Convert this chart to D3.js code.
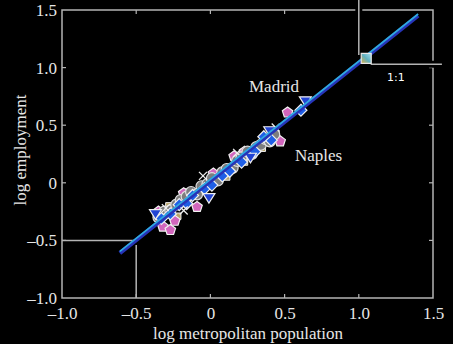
<!DOCTYPE html>
<html>
<head>
<meta charset="utf-8">
<script src="https://cdn.jsdelivr.net/npm/d3@7"></script>
<style>
  body { margin: 0; background: #000; }
  svg { display: block; }
</style>
</head>
<body>
<div id="chart"></div>
<script>
// axis ticks
var xTicks = [-1.0, -0.5, 0, 0.5, 1.0, 1.5];
var yTicks = [-1.0, -0.5, 0, 0.5, 1.0, 1.5];

// cities, one array per marker type: [log population, log employment]
var circles = [[-0.35, -0.30], [-0.31, -0.25], [-0.27, -0.24], [-0.23, -0.19], [-0.20, -0.15],
  [-0.16, -0.12], [-0.13, -0.08], [-0.09, -0.10], [-0.06, -0.03], [-0.02, -0.01], [0.01, 0.04],
  [0.05, 0.02], [0.08, 0.09], [0.11, 0.12], [0.15, 0.13], [0.18, 0.19], [0.21, 0.22],
  [0.25, 0.27], [0.28, 0.25], [0.31, 0.31], [0.34, 0.33], [0.37, 0.38], [0.40, 0.36], [0.43, 0.42]];
var pentagons = [[-0.32, -0.38], [-0.27, -0.41], [-0.35, -0.25], [-0.24, -0.33], [-0.09, -0.21],
  [0.16, 0.23], [0.23, 0.27], [0.47, 0.36], [0.52, 0.61], [-0.18, -0.09], [0.02, 0.08]];
var diamonds = [[-0.33, -0.31], [-0.27, -0.27], [-0.21, -0.19], [-0.12, -0.11], [-0.04, -0.05],
  [0.01, -0.02], [0.08, 0.06], [0.13, 0.10], [0.21, 0.18], [0.30, 0.27], [0.41, 0.37], [0.61, 0.63],
  [-0.16, -0.18], [0.36, 0.40]];
var triangles = [[0.64, 0.71], [-0.37, -0.27], [0.40, 0.45], [-0.01, -0.13], [0.27, 0.22]];
var squares = [[-0.15, -0.08], [-0.22, -0.29], [0.11, 0.05], [0.23, 0.18], [-0.28, -0.20], [0.35, 0.30]];
var crosses = [[-0.30, -0.22], [-0.05, 0.06], [0.44, 0.48], [0.18, 0.26], [-0.18, -0.24]];

// fitted lines
var fitX = [-0.61, 1.40];
var fitY = [-0.61, 1.45];
var fit2Y = [-0.595, 1.465];

// 1:1 inset guide
var insetPoint = [1.05, 1.08];

var width = 453, height = 344;
var svg = d3.select("#chart").append("svg")
    .attr("width", width)
    .attr("height", height)
    .style("background", "#000");

var x = d3.scaleLinear().domain([-1, 1.5]).range([62, 433]);
var y = d3.scaleLinear().domain([-1, 1.5]).range([298, 10]);

var frameColor = "#b4b4b4";
var fmt = function(d) {
    if (d === 0) return "0";
    return (d < 0 ? "\u2013" : "") + Math.abs(d).toFixed(1);
};

// frame
svg.append("rect")
    .attr("x", x(-1)).attr("y", y(1.5))
    .attr("width", x(1.5) - x(-1)).attr("height", y(-1) - y(1.5))
    .attr("fill", "none").attr("stroke", frameColor).attr("stroke-width", 1.5);

// inward ticks on all sides
var tickG = svg.append("g").attr("stroke", frameColor).attr("stroke-width", 1.2);
xTicks.slice(1, -1).forEach(function(t) {
    tickG.append("line").attr("x1", x(t)).attr("x2", x(t)).attr("y1", y(-1)).attr("y2", y(-1) - 4);
    tickG.append("line").attr("x1", x(t)).attr("x2", x(t)).attr("y1", y(1.5)).attr("y2", y(1.5) + 4);
});
yTicks.slice(1, -1).forEach(function(t) {
    tickG.append("line").attr("y1", y(t)).attr("y2", y(t)).attr("x1", x(-1)).attr("x2", x(-1) + 4);
    tickG.append("line").attr("y1", y(t)).attr("y2", y(t)).attr("x1", x(1.5)).attr("x2", x(1.5) - 4);
});

// tick labels
svg.append("g")
    .attr("transform", "translate(0," + (y(-1) + 9) + ")")
    .call(d3.axisBottom(x).tickValues(xTicks).tickFormat(fmt).tickSize(0).tickPadding(0))
    .call(function(g) { g.select(".domain").remove(); })
    .selectAll("text")
    .attr("fill", "#e6e6e6")
    .style("font-family", "'Liberation Serif', serif")
    .style("font-size", "17px");

svg.append("g")
    .attr("transform", "translate(" + (x(-1) - 5) + ",0)")
    .call(d3.axisLeft(y).tickValues(yTicks).tickFormat(fmt).tickSize(0).tickPadding(0))
    .call(function(g) { g.select(".domain").remove(); })
    .selectAll("text")
    .attr("fill", "#e6e6e6")
    .style("font-family", "'Liberation Serif', serif")
    .style("font-size", "17px");

// axis titles
svg.append("text")
    .attr("x", 248).attr("y", 339)
    .attr("text-anchor", "middle")
    .attr("fill", "#e6e6e6")
    .style("font-family", "'Liberation Serif', serif")
    .style("font-size", "17px")
    .text("log metropolitan population");

svg.append("text")
    .attr("transform", "translate(26,150) rotate(-90)")
    .attr("text-anchor", "middle")
    .attr("fill", "#e6e6e6")
    .style("font-family", "'Liberation Serif', serif")
    .style("font-size", "17px")
    .text("log employment");

// guide lines, with a black halo so they cut the frame
function guide(x1, y1, x2, y2) {
    svg.append("line")
        .attr("x1", x(x1)).attr("y1", y(y1)).attr("x2", x(x2)).attr("y2", y(y2))
        .attr("stroke", "#000").attr("stroke-width", 7);
    svg.append("line")
        .attr("x1", x(x1)).attr("y1", y(y1)).attr("x2", x(x2)).attr("y2", y(y2))
        .attr("stroke", frameColor).attr("stroke-width", 1.5);
}
// lower-left corner
svg.append("path")
    .attr("d", "M" + x(-1) + "," + y(-0.5) + "H" + x(-0.5) + "M" + x(-0.5) + "," + y(-0.54) + "V" + y(-1))
    .attr("fill", "none").attr("stroke", frameColor).attr("stroke-width", 1.5);
// upper-right inset
guide(1.0, 1.59, 1.0, 1.11);
guide(1.08, 1.03, 1.56, 1.03);

// markers
function pentagon(r) {
    var pts = d3.range(5).map(function(i) {
        var a = -Math.PI / 2 + i * 2 * Math.PI / 5;
        return [r * Math.cos(a), r * Math.sin(a)];
    });
    return "M" + pts.join("L") + "Z";
}
function diamond(r) {
    return "M0," + (-r) + "L" + r + ",0L0," + r + "L" + (-r) + ",0Z";
}
function triDown(r) {
    return "M" + (-r) + "," + (-r * 0.7) + "L" + r + "," + (-r * 0.7) + "L0," + (r * 0.9) + "Z";
}
function square(r) {
    return "M" + (-r) + "," + (-r) + "H" + r + "V" + r + "H" + (-r) + "Z";
}

function drawPoints(data, path, fill, stroke, sw) {
    svg.append("g").selectAll("path")
        .data(data)
        .enter().append("path")
        .attr("transform", function(d) { return "translate(" + x(d[0]) + "," + y(d[1]) + ")"; })
        .attr("d", path)
        .attr("fill", fill)
        .attr("stroke", stroke)
        .attr("stroke-width", sw);
}

drawPoints(squares, square(3.2), "#b8a468", "#eeeeee", 1);
drawPoints(pentagons, pentagon(5.5), "#d266bd", "#f2f2f2", 1.2);
drawPoints(circles, d3.symbol().type(d3.symbolCircle).size(95)(), "#7d7d7d", "#e0e0e0", 1.2);
drawPoints(diamonds, diamond(6), "#1f5fe6", "#f0f0f0", 1.2);
drawPoints(triangles, triDown(6), "#2244d4", "#f0f0f0", 1.2);
svg.append("g").selectAll("path")
    .data(crosses)
    .enter().append("path")
    .attr("transform", function(d) { return "translate(" + x(d[0]) + "," + y(d[1]) + ")"; })
    .attr("d", "M-4,-4L4,4M-4,4L4,-4")
    .attr("stroke", "#f0f0f0").attr("stroke-width", 1.3);

// fitted lines, over the markers
svg.append("line")
    .attr("x1", x(fitX[0])).attr("y1", y(fitY[0])).attr("x2", x(fitX[1])).attr("y2", y(fitY[1]))
    .attr("stroke", "#2634b8").attr("stroke-width", 4);
svg.append("line")
    .attr("x1", x(fitX[0])).attr("y1", y(fit2Y[0])).attr("x2", x(fitX[1])).attr("y2", y(fit2Y[1]))
    .attr("stroke", "#2fa9e2").attr("stroke-width", 1.8);

// inset square with gradient
var grad = svg.append("defs").append("linearGradient")
    .attr("id", "inset").attr("x1", "0").attr("y1", "1").attr("x2", "1").attr("y2", "0");
grad.append("stop").attr("offset", "0").attr("stop-color", "#e0b040");
grad.append("stop").attr("offset", "0.5").attr("stop-color", "#60b0c0");
grad.append("stop").attr("offset", "1").attr("stop-color", "#a8e0f0");
svg.append("path")
    .attr("transform", "translate(" + x(insetPoint[0]) + "," + y(insetPoint[1]) + ")")
    .attr("d", square(5))
    .attr("fill", "url(#inset)")
    .attr("stroke", "#e8e8e8").attr("stroke-width", 1.2);

// city labels
svg.append("text")
    .attr("x", x(0.26)).attr("y", y(0.79))
    .attr("fill", "#e6e6e6")
    .style("font-family", "'Liberation Serif', serif")
    .style("font-size", "17px")
    .text("Madrid");
svg.append("text")
    .attr("x", x(0.57)).attr("y", y(0.19))
    .attr("fill", "#e6e6e6")
    .style("font-family", "'Liberation Serif', serif")
    .style("font-size", "17px")
    .text("Naples");
svg.append("text")
    .attr("x", x(1.19)).attr("y", y(0.885))
    .attr("fill", "#ffffff")
    .style("font-family", "'DejaVu Sans', sans-serif")
    .style("font-size", "11px")
    .text("1:1");
</script>
</body>
</html>
